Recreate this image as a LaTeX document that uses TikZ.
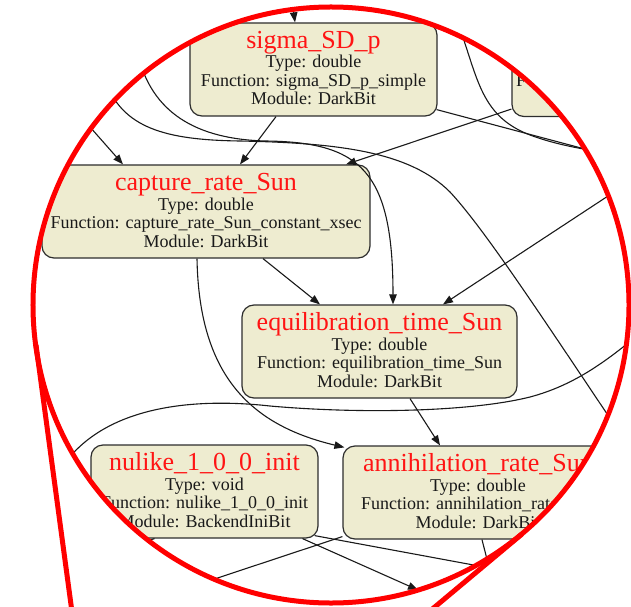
\documentclass[tikz,border=0pt]{standalone}
\usepackage{fontspec}
\setmainfont{Liberation Serif}
\usetikzlibrary{arrows.meta,calc}
\definecolor{boxfill}{RGB}{238,236,208}
\definecolor{boxdraw}{RGB}{45,45,45}
\definecolor{ttlred}{RGB}{255,20,20}
\newcommand{\gvnode}[8]{%
  \node[gvbox, minimum width=#4bp] (#1) at ({#2},{#3+46.5}) {};
  \node[ttl] (#1-t) at ({#2},{#3+25.5}) {#5};
  \node[bdy] (#1-a) at ({#2},{#3+45}) {#6};
  \node[bdy] (#1-b) at ({#2},{#3+63.5}) {#7};
  \node[bdy] (#1-c) at ({#2},{#3+82}) {#8};
}
\begin{document}
\begin{tikzpicture}[x=1bp,y=-1bp,
  gvbox/.style={draw=boxdraw, fill=boxfill, line width=1.2bp, rounded corners=12bp, inner sep=0pt, minimum height=93bp},
  ttl/.style={anchor=base, text=ttlred, font=\fontsize{26bp}{26bp}\selectfont, inner sep=0pt},
  bdy/.style={anchor=base, text=black!90, font=\fontsize{18bp}{18bp}\selectfont, inner sep=0pt},
  edge/.style={draw=black!90, line width=1.1bp},
  arr/.style={edge, -{Triangle[length=10bp,width=7.5bp]}},
  lens/.style={draw=red, line width=5bp}]
\useasboundingbox (0,0) rectangle (631,607);
\begin{scope}
\clip (331,305) circle (298bp);
% nodes
\gvnode{sigma}{313.5}{23}{247}{sigma\_SD\_p}{Type: double}{Function: sigma\_SD\_p\_simple}{Module: DarkBit}
\node[gvbox, minimum width=268bp] (pr) at (646,70) {};
\node[bdy, anchor=base west] (pr-f) at (516,87) {F};
\gvnode{capture}{206}{165}{328}{capture\_rate\_Sun}{Type: double}{Function: capture\_rate\_Sun\_constant\_xsec}{Module: DarkBit}
\gvnode{equil}{379.5}{305}{275}{equilibration\_time\_Sun}{Type: double}{Function: equilibration\_time\_Sun}{Module: DarkBit}
\gvnode{nulike}{204.5}{445}{227}{nulike\_1\_0\_0\_init}{Type: void}{Function: nulike\_1\_0\_0\_init}{Module: BackendIniBit}
\gvnode{annih}{478}{446}{270}{annihilation\_rate\_Sun}{Type: double}{Function: annihilation\_rate\_Sun}{Module: DarkBit}
% free ends
\coordinate (s1) at (292,0);
\coordinate (c1s) at (138,55);
\coordinate (c2s) at (105,80);
\coordinate (c2e) at (665,500);
\coordinate (c3s) at (75,110);
\coordinate (c4e) at (660,169);
\coordinate (c5s) at (455,15);
\coordinate (c5e) at (660,160);
\coordinate (c6s) at (640,175);
\coordinate (c7s) at (50,490);
\coordinate (c7e) at (655,320);
\coordinate (c8e) at (418,590);
\coordinate (c9e) at (130,607);
\coordinate (c10e) at (560,581);
\coordinate (c11e) at (499,607);
\coordinate (c12e) at (100,556);
% edges
\draw[arr] (s1) -- ($(sigma.north)+(-18.5,0)$);
\draw[arr] (c1s) .. controls (152,112) and (195,139) .. (265,141) .. controls (360,142) and (393,170) .. ($(equil.north)+(13.5,0)$);
\draw[edge] (c2s) .. controls (122,128) and (165,140) .. (240,141) .. controls (340,143) and (410,152) .. (450,192) .. controls (490,235) and (560,345) .. (c2e);
\draw[arr] (c3s) -- ($(capture.north)+(-83,0)$);
\draw[arr] ($(sigma.south)+(-37.5,0)$) -- ($(capture.north)+(34,0)$);
\draw[arr] ($(pr.south west)+(0,-8)$) -- ($(capture.north)+(140,0)$);
\draw[edge] ($(sigma.south east)+(-1,-7)$) -- (c4e);
\draw[edge] (c5s) .. controls (478,75) and (478,115) .. (530,135) .. controls (565,148) and (600,152) .. (c5e);
\draw[arr] (c6s) -- ($(equil.north)+(63.5,0)$);
\draw[arr] ($(capture.south)+(57,0)$) -- ($(equil.north)+(-59.5,0)$);
\draw[arr] ($(capture.south)+(-9,0)$) .. controls (199,375) and (250,425) .. ($(annih.north west)+(2,2)$);
\draw[edge] (c7s) .. controls (80,415) and (170,395) .. (270,406) .. controls (360,414) and (470,412) .. (530,397) .. controls (575,385) and (610,360) .. (c7e);
\draw[arr] ($(equil.south)+(30.5,0)$) -- ($(annih.north)+(-38,0)$);
\draw[arr] ($(nulike.south)+(98,0)$) -- (c8e);
\draw[edge] ($(annih.south west)+(0,-3)$) -- (c9e);
\draw[edge] ($(nulike.south east)+(-4,-3)$) -- (c10e);
\draw[edge] ($(annih.south)+(4,0)$) -- (c11e);
\draw[edge] ($(nulike.south)+(-50,0)$) -- (c12e);
\end{scope}
% magnifier lens
\draw[lens] (331,305) circle (298bp);
\draw[lens] (36,345) -- (72,612);
\draw[lens] (522,534) -- (430,611);
\end{tikzpicture}
\end{document}
